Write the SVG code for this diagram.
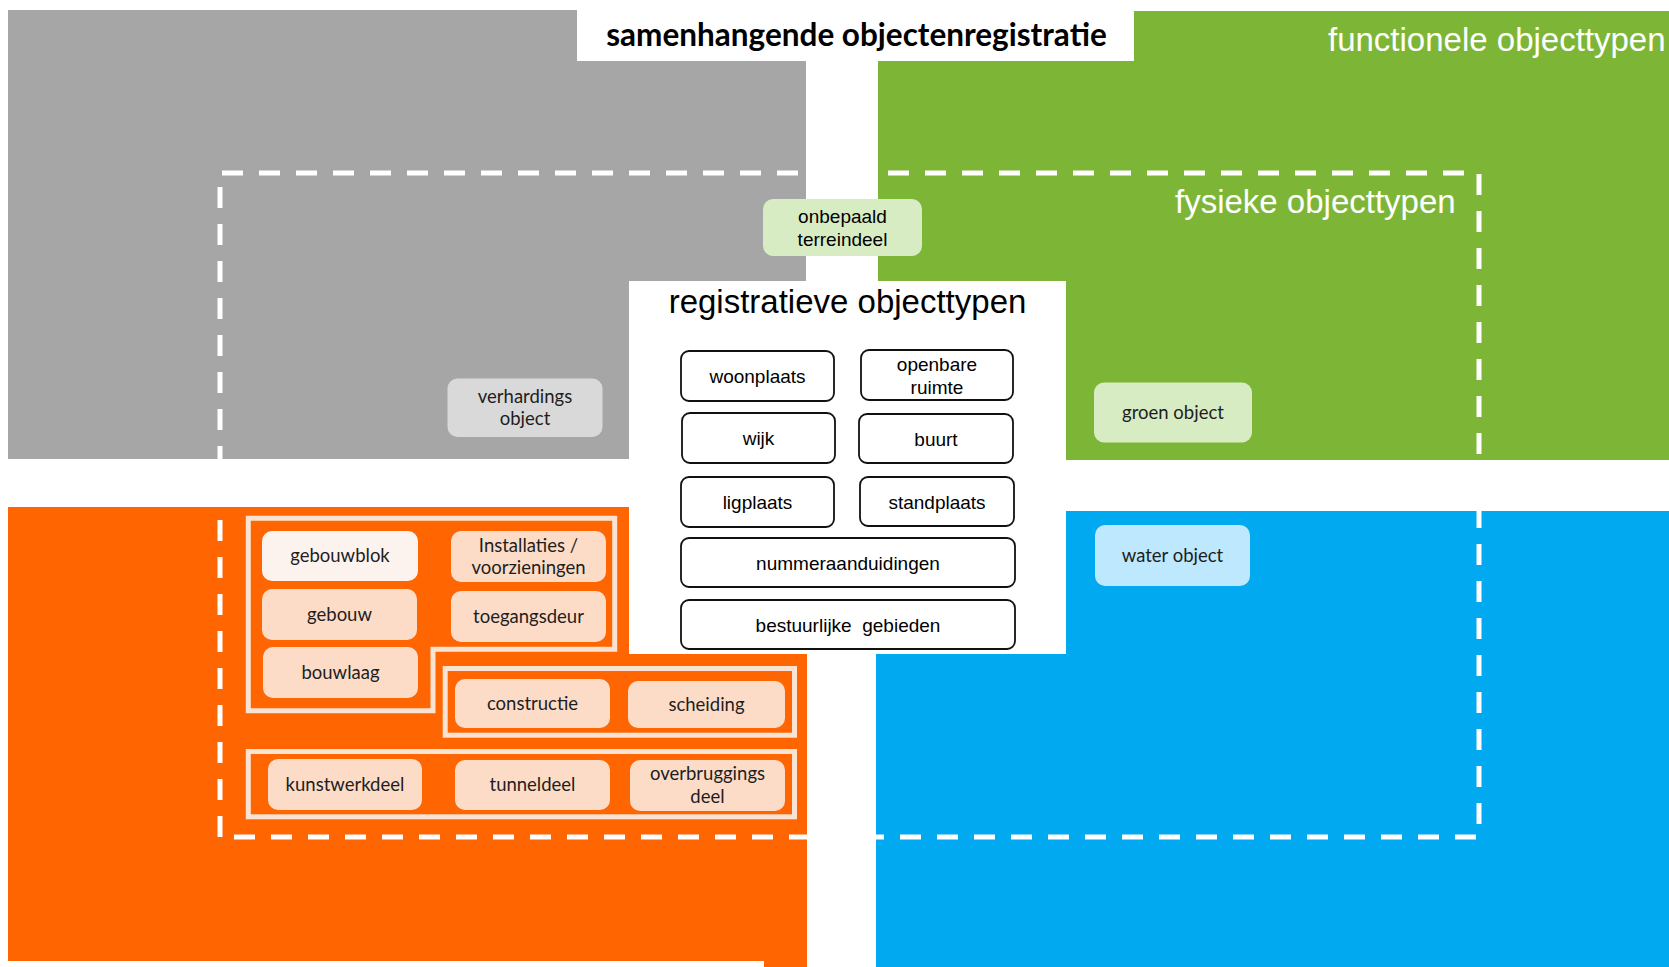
<svg xmlns="http://www.w3.org/2000/svg" width="1669" height="967" viewBox="0 0 1669 967">
  <style>
    .area-label { font-family: "Liberation Sans", Arial, sans-serif; font-size: 33px; fill: #ffffff; }
    .reg-title { font-family: "Liberation Sans", Arial, sans-serif; font-size: 33px; fill: #000000; }
    .main-title { font-family: Lato, "Noto Sans", sans-serif; font-weight: bold; font-size: 31.5px; fill: #000000; }
    .reg-box { fill: #ffffff; stroke: #111111; stroke-width: 1.8; }
    .reg-text { font-family: "Liberation Sans", Arial, sans-serif; font-size: 19px; fill: #000000; text-anchor: middle; }
    .obj-text { font-family: Lato, "Noto Sans", sans-serif; font-size: 18.5px; fill: #1e1e1e; text-anchor: middle; }
    .peach { fill: #fcdcc7; }
    .peach-light { fill: #fdf3ee; }
    .frame { fill: none; stroke: #fbe3d4; stroke-width: 5; }
    .dash { fill: none; stroke: #ffffff; stroke-width: 5; stroke-dasharray: 21 16; }
  </style>

  <rect width="1669" height="967" fill="#ffffff"/>

  <!-- four coloured quadrants -->
  <g id="quadrants">
    <path id="quadrant-grey" d="M8,10 H577 V61 H806 V281 H629 V459 H8 Z" fill="#a6a6a6"/>
    <path id="quadrant-green" d="M1134,11 H1669 V460 H1066 V281 H878 V61 H1134 Z" fill="#7db637"/>
    <path id="quadrant-orange" d="M8,507 H629 V654 H807 V967 H764 V961 H8 Z" fill="#ff6501"/>
    <path id="quadrant-blue" d="M1066,511 H1669 V967 H876 V654 H1066 Z" fill="#00a9f0"/>
  </g>

  <!-- boundary of the physical object types -->
  <path id="fysiek-boundary" class="dash" d="M220,837 V173 H1479 V837 H220"/>

  <!-- headings -->
  <g id="titles">
    <text class="main-title" x="856.5" y="45.5" text-anchor="middle">samenhangende objectenregistratie</text>
    <text class="area-label" x="1328" y="51">functionele objecttypen</text>
    <text class="area-label" x="1175" y="212.5">fysieke objecttypen</text>
    <text class="reg-title" x="847.5" y="312.5" text-anchor="middle">registratieve objecttypen</text>
  </g>

  <!-- groupings inside the orange quadrant -->
  <g id="frames">
    <path id="frame-gebouw" class="frame" d="M248.3,518.2 H614.7 V649.2 H433 V710.8 H248.3 Z"/>
    <rect id="frame-constructie" class="frame" x="445.2" y="668.5" width="349.3" height="66.7"/>
    <rect id="frame-kunstwerk" class="frame" x="248.3" y="751.5" width="546.2" height="65.3"/>
  </g>

  <!-- registration object types -->
  <g id="node-woonplaats">
    <rect class="reg-box" x="681" y="351" width="153" height="50" rx="8"/>
    <text class="reg-text" x="757.5" y="383">woonplaats</text>
  </g>
  <g id="node-openbare-ruimte">
    <rect class="reg-box" x="861" y="350" width="152" height="50" rx="8"/>
    <text class="reg-text" x="937" y="371">openbare</text>
    <text class="reg-text" x="937" y="394">ruimte</text>
  </g>
  <g id="node-wijk">
    <rect class="reg-box" x="682" y="413" width="153" height="50" rx="8"/>
    <text class="reg-text" x="758.5" y="445">wijk</text>
  </g>
  <g id="node-buurt">
    <rect class="reg-box" x="859" y="414" width="154" height="49" rx="8"/>
    <text class="reg-text" x="936" y="445.5">buurt</text>
  </g>
  <g id="node-ligplaats">
    <rect class="reg-box" x="681" y="477" width="153" height="50" rx="8"/>
    <text class="reg-text" x="757.5" y="508.5">ligplaats</text>
  </g>
  <g id="node-standplaats">
    <rect class="reg-box" x="860" y="477" width="154" height="49" rx="8"/>
    <text class="reg-text" x="937" y="508.5">standplaats</text>
  </g>
  <g id="node-nummeraanduidingen">
    <rect class="reg-box" x="681" y="538" width="334" height="49" rx="8"/>
    <text class="reg-text" x="848" y="569.5">nummeraanduidingen</text>
  </g>
  <g id="node-bestuurlijke-gebieden">
    <rect class="reg-box" x="681" y="600" width="334" height="49" rx="8"/>
    <text class="reg-text" x="848" y="631.5" xml:space="preserve" style="white-space:pre">bestuurlijke  gebieden</text>
  </g>

  <!-- physical object types -->
  <g id="node-onbepaald-terreindeel">
    <rect x="763" y="199" width="159" height="57" rx="10" fill="#d8ecc4"/>
    <text class="reg-text" x="842.5" y="223">onbepaald</text>
    <text class="reg-text" x="842.5" y="246">terreindeel</text>
  </g>
  <g id="node-verhardingsobject">
    <rect x="447.5" y="378.5" width="155" height="58.5" rx="10" fill="#d9d9d9"/>
    <text class="obj-text" x="525" y="402.5">verhardings</text>
    <text class="obj-text" x="525" y="425">object</text>
  </g>
  <g id="node-groenobject">
    <rect x="1094" y="382.5" width="158" height="60" rx="10" fill="#d8ecc4"/>
    <text class="obj-text" x="1173" y="418.5">groen object</text>
  </g>
  <g id="node-waterobject">
    <rect x="1095" y="525" width="155" height="61" rx="10" fill="#bde8fd"/>
    <text class="obj-text" x="1172.5" y="561.5">water object</text>
  </g>

  <g id="node-gebouwblok">
    <rect class="peach-light" x="262" y="531" width="156" height="50" rx="10"/>
    <text class="obj-text" x="340" y="562">gebouwblok</text>
  </g>
  <g id="node-installaties">
    <rect class="peach" x="451" y="531" width="155" height="51" rx="10"/>
    <text class="obj-text" x="528.5" y="551.5">Installaties /</text>
    <text class="obj-text" x="528.5" y="574">voorzieningen</text>
  </g>
  <g id="node-gebouw">
    <rect class="peach" x="262" y="589" width="155" height="51" rx="10"/>
    <text class="obj-text" x="339.5" y="620.5">gebouw</text>
  </g>
  <g id="node-toegangsdeur">
    <rect class="peach" x="451" y="591" width="155" height="51" rx="10"/>
    <text class="obj-text" x="528.5" y="622.5">toegangsdeur</text>
  </g>
  <g id="node-bouwlaag">
    <rect class="peach" x="263" y="647" width="155" height="51" rx="10"/>
    <text class="obj-text" x="340.5" y="678.5">bouwlaag</text>
  </g>
  <g id="node-constructie">
    <rect class="peach" x="455" y="679" width="155" height="49" rx="10"/>
    <text class="obj-text" x="532.5" y="709.5">constructie</text>
  </g>
  <g id="node-scheiding">
    <rect class="peach" x="628" y="681" width="157" height="47" rx="10"/>
    <text class="obj-text" x="706.5" y="710.5">scheiding</text>
  </g>
  <g id="node-kunstwerkdeel">
    <rect class="peach" x="268" y="759" width="154" height="51" rx="10"/>
    <text class="obj-text" x="345" y="790.5">kunstwerkdeel</text>
  </g>
  <g id="node-tunneldeel">
    <rect class="peach" x="455" y="760" width="155" height="50" rx="10"/>
    <text class="obj-text" x="532.5" y="791">tunneldeel</text>
  </g>
  <g id="node-overbruggingsdeel">
    <rect class="peach" x="630" y="760" width="155" height="51" rx="10"/>
    <text class="obj-text" x="707.5" y="780">overbruggings</text>
    <text class="obj-text" x="707.5" y="803">deel</text>
  </g>
</svg>
